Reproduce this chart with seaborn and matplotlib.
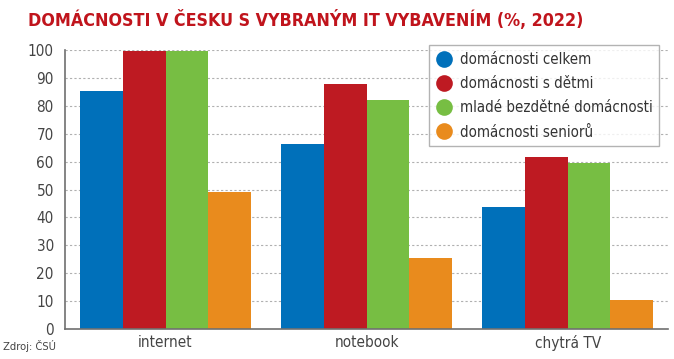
import matplotlib
matplotlib.use("Agg")
import matplotlib.pyplot as plt
import seaborn as sns
import pandas as pd
from matplotlib.lines import Line2D

categories = ["internet", "notebook", "chytrá TV"]
series = ["domácnosti celkem", "domácnosti s dětmi", "mladé bezdětné domácnosti", "domácnosti seniorů"]
celkem = [85.3, 66.4, 43.6]
s_detmi = [99.6, 87.8, 61.7]
mlade = [99.6, 82.0, 59.6]
seniori = [49.0, 25.6, 10.4]
colors = ["#0070ba", "#be1a22", "#77be43", "#e98b1d"]
yticks = [0, 10, 20, 30, 40, 50, 60, 70, 80, 90, 100]

rows = []
for s, vals in zip(series, [celkem, s_detmi, mlade, seniori]):
    for c, v in zip(categories, vals):
        rows.append({"kategorie": c, "skupina": s, "hodnota": v})
df = pd.DataFrame(rows)

sns.set_theme(style="white")
plt.rcParams["font.family"] = ["DejaVu Sans"]
plt.rcParams["font.stretch"] = "condensed"

fig = plt.figure(figsize=(6.74, 3.59), dpi=100)
ax = fig.add_axes([0.0964, 0.0836, 0.895, 0.777])

sns.barplot(data=df, x="kategorie", y="hodnota", hue="skupina", order=categories,
            hue_order=series, palette=colors, width=0.85, saturation=1,
            edgecolor="none", linewidth=0, ax=ax, legend=False)

ax.set_ylim(0, 100)
ax.set_xlim(-0.5, 2.5)
ax.set_yticks(yticks)
ax.set_xlabel("")
ax.set_ylabel("")
ax.yaxis.grid(True, linestyle=(0, (2, 2)), color="#b0b0b0", linewidth=0.8)
ax.set_axisbelow(True)
for sp in ["top", "right"]:
    ax.spines[sp].set_visible(False)
for sp in ["left", "bottom"]:
    ax.spines[sp].set_color("#707070")
    ax.spines[sp].set_linewidth(1.2)
ax.tick_params(axis="both", length=0, labelsize=11, labelcolor="#444444", pad=4)
ax.tick_params(axis="y", pad=8)

handles = [Line2D([0], [0], marker="o", linestyle="none", markersize=12,
                  markerfacecolor=c, markeredgecolor="none") for c in colors]
leg = ax.legend(handles, series, loc="upper right", bbox_to_anchor=(0.985, 1.018),
                borderaxespad=0, frameon=True, fancybox=False, fontsize=10.8,
                handletextpad=0.5, labelspacing=0.62, borderpad=0.45, handlelength=1.1)
leg.get_frame().set_edgecolor("#a0a0a0")
leg.get_frame().set_linewidth(1.0)
for t in leg.get_texts():
    t.set_color("#333333")

fig.text(0.042, 0.945, "DOMÁCNOSTI V ČESKU S VYBRANÝM IT VYBAVENÍM (%, 2022)",
         fontsize=12.8, fontweight="bold", color="#c0141c", va="center")
fig.text(0.004, 0.025, "Zdroj: ČSÚ", fontsize=8, color="#444444")

fig.savefig("out.png", dpi=100)
